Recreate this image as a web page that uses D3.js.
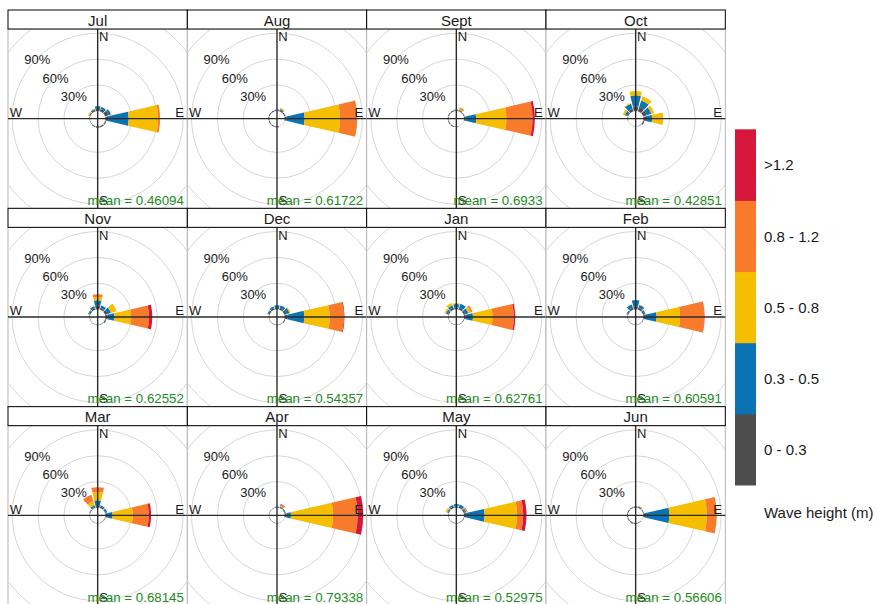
<!DOCTYPE html>
<html>
<head>
<meta charset="utf-8">
<script src="https://cdn.jsdelivr.net/npm/d3@7/dist/d3.min.js"></script>
<style>
  body { margin: 0; background: #fff; }
  svg { display: block; }
  text { font-family: "Liberation Sans", Arial, sans-serif; fill: #1a1a1a; }
</style>
</head>
<body>
<svg id="chart" width="878" height="604"></svg>
<script>
// Monthly wave roses: frequency (%) of wave direction, stacked by wave height class.
const months = ["Jul", "Aug", "Sept", "Oct", "Nov", "Dec", "Jan", "Feb", "Mar", "Apr", "May", "Jun"];
const meanHeight = ["0.46094", "0.61722", "0.6933", "0.42851", "0.62552", "0.54357",
                    "0.62761", "0.60591", "0.68145", "0.79338", "0.52975", "0.56606"];
const directions = [30, 60, 90, 120, 150, 180, 210, 240, 270, 300, 330, 360];
const heightBins = ["0 - 0.3", "0.3 - 0.5", "0.5 - 0.8", "0.8 - 1.2", ">1.2"];
const binColours = ["#4d4d4d", "#0b72b4", "#f6be00", "#f77b2a", "#d7163b"];
const gridLevels = [30, 60, 90];

// rows follow `directions`, columns follow `heightBins`
const freqJul = [
  [2.5, 2.5, 0, 0, 0], [4, 3, 0.5, 0, 0], [3, 24, 34, 2.3, 0], [1, 0.5, 0, 0, 0],
  [1.5, 0, 0, 0, 0], [1.5, 0, 0, 0, 0], [1, 0, 0, 0, 0], [0.5, 0, 0, 0, 0],
  [0.5, 0, 0, 0, 0], [1, 0.5, 1, 0, 0], [1.5, 1, 0.5, 0, 0], [2.5, 3, 0.5, 0, 0]];
const freqAug = [
  [1, 1.5, 1.5, 0, 0], [1, 0.5, 0, 0, 0], [2, 21, 41, 20, 0], [0, 0, 0, 0, 0],
  [0, 0, 0, 0, 0], [1, 0, 0, 0, 0], [1, 0, 0, 0, 0], [1, 0, 0, 0, 0],
  [1, 0, 0, 0, 0], [1, 0, 0, 0, 0], [1, 0, 0, 0, 0], [1, 0.5, 0, 0, 0]];
const freqSept = [
  [0.5, 1, 1.5, 1.5, 0], [0.5, 0.5, 0, 0, 0], [1.5, 12.5, 35, 30.3, 2.7], [0, 0, 0, 0, 0],
  [0, 0, 0, 0, 0], [0.5, 0, 0, 0, 0], [1, 0, 0, 0, 0], [1, 0, 0, 0, 0],
  [1, 0, 0, 0, 0], [1, 0, 0, 0, 0], [1, 0, 0, 0, 0], [1, 0.5, 0, 0, 0]];
const freqOct = [
  [5, 8, 5, 0, 0], [4.5, 5.5, 3.5, 0, 0], [3, 7, 13, 0, 0], [1.5, 0, 0, 0, 0],
  [0.5, 0, 0, 0, 0], [0, 0, 0, 0, 0], [0, 0, 0, 0, 0], [0, 0, 0, 0, 0],
  [0.5, 0, 0, 0, 0], [1, 3, 2.5, 0, 0], [3, 6, 1, 0, 0], [5, 13, 5, 0, 0]];
const freqNov = [
  [2, 3, 0, 0, 0], [3, 4, 7, 0, 0], [2.5, 8, 19.5, 20.5, 3.8], [1, 0.5, 0, 0, 0],
  [0.5, 0, 0, 0, 0], [0.5, 0, 0, 0, 0], [0.3, 0, 0, 0, 0], [0.3, 0, 0, 0, 0],
  [0.5, 0, 0, 0, 0], [1.5, 1, 0, 0, 0], [1.5, 2.5, 0, 0, 0], [4.5, 5.8, 3.9, 3.1, 0]];
const freqDec = [
  [2, 3, 0, 0, 0], [2.5, 3.5, 1.5, 0, 0], [3, 19.7, 29.4, 16.3, 0.8], [1, 0, 0, 0, 0],
  [0.5, 0, 0, 0, 0], [0.5, 0, 0, 0, 0], [0.5, 0, 0, 0, 0], [0.3, 0, 0, 0, 0],
  [0.5, 0, 0, 0, 0], [1.5, 1, 0, 0, 0], [1.5, 2, 0, 0, 0], [1.5, 3, 0, 0, 0]];
const freqJan = [
  [2, 5, 0, 0, 0], [2, 3.5, 3, 2.2, 0], [2, 8.3, 22.5, 24.8, 1.6], [0.5, 0, 0, 0, 0],
  [0.3, 0, 0, 0, 0], [0.3, 0, 0, 0, 0], [0.3, 0, 0, 0, 0], [0.3, 0, 0, 0, 0],
  [0.5, 0, 0, 0, 0], [1, 2.5, 2, 0, 0], [2, 3, 3, 0, 0], [2, 4, 1, 0, 0]];
const freqFeb = [
  [2, 3.5, 0.5, 0, 0], [1.5, 1.5, 0, 0, 0], [2, 13.3, 27.2, 27.9, 0.5], [0.5, 0, 0, 0, 0],
  [0.3, 0, 0, 0, 0], [0.3, 0, 0, 0, 0], [0.3, 0, 0, 0, 0], [0.3, 0, 0, 0, 0],
  [0.5, 0, 0, 0, 0], [1, 1, 0, 0, 0], [2, 4, 0, 0, 0], [3, 7.5, 0, 0, 0]];
const freqMar = [
  [1.5, 1.5, 0, 0, 0], [1, 1.5, 0, 0, 0], [2, 6.3, 23.3, 18.6, 2.7], [0.5, 0, 0, 0, 0],
  [0.3, 0, 0, 0, 0], [0.3, 0, 0, 0, 0], [0.3, 0, 0, 0, 0], [0.3, 0, 0, 0, 0],
  [0.3, 0, 0, 0, 0], [0.5, 0.5, 0, 0, 0], [1, 2, 5, 8, 0], [2, 6.3, 9.7, 5.6, 0]];
const freqApr = [
  [0.5, 1, 1, 1.5, 0.5], [0.5, 1, 0, 0, 0], [2, 5.2, 48.8, 28.5, 6.4], [0, 0, 0, 0, 0],
  [0, 0, 0, 0, 0], [0.3, 0, 0, 0, 0], [0.3, 0, 0, 0, 0], [0.3, 0, 0, 0, 0],
  [0.3, 0, 0, 0, 0], [0.3, 0, 0, 0, 0], [0.3, 0, 0, 0, 0], [0.5, 0.5, 0, 0, 0]];
const freqMay = [
  [1.5, 2.5, 0, 0, 0], [1.5, 1.5, 0.5, 1, 0], [2.5, 21.3, 37.6, 7, 3.9], [0.5, 0, 0, 0, 0],
  [0.5, 0, 0, 0, 0], [0.5, 0, 0, 0, 0], [0.5, 0, 0, 0, 0], [0.3, 0, 0, 0, 0],
  [0.5, 0, 0, 0, 0], [1, 1, 2, 0, 0], [1.5, 2, 0, 0, 0], [1.5, 2.5, 0, 0, 0]];
const freqJun = [
  [1, 0.5, 1, 0, 0], [0.5, 0.5, 0, 0, 0], [3, 27, 43.5, 11.5, 0], [0, 0, 0, 0, 0],
  [0.5, 0, 0, 0, 0], [1, 0, 0, 0, 0], [1, 0, 0, 0, 0], [1, 0, 0, 0, 0],
  [1, 0, 0, 0, 0], [1, 0, 0, 0, 0], [1, 0, 0, 0, 0], [1, 0.5, 0, 0, 0]];

const monthFreq = [freqJul, freqAug, freqSept, freqOct, freqNov, freqDec,
                   freqJan, freqFeb, freqMar, freqApr, freqMay, freqJun];

// ---- layout ----
const svg = d3.select("#chart");
const gridLeft = 8, gridTop = 10;
const panelW = 179.33, panelH = 179.33, stripH = 19;
const nCols = 4;
const upperPx = (panelW / 2) / 1.04;          // radius of the plotting limit

// longest stacked bar sets the shared radial scale, with a 10 % hole in the middle
const maxFreq = d3.max(monthFreq, m => d3.max(m, row => d3.sum(row)));
const offset = maxFreq * 0.1;
const r = d3.scaleLinear().domain([-offset, maxFreq]).range([0, upperPx]);
const halfWidth = 13 * Math.PI / 180;         // wedge half-width in a 30° sector
const colour = d3.scaleOrdinal().domain(heightBins).range(binColours);

const arc = d3.arc();
const defs = svg.append("defs");

months.forEach((month, i) => {
  const col = i % nCols, row = Math.floor(i / nCols);
  const x0 = gridLeft + col * panelW;
  const y0 = gridTop + row * (stripH + panelH);
  const py = y0 + stripH;
  const cx = x0 + panelW / 2, cy = py + panelH / 2;

  defs.append("clipPath").attr("id", "clip" + i)
    .append("rect").attr("x", x0).attr("y", py).attr("width", panelW).attr("height", panelH);

  const panel = svg.append("g");
  panel.append("rect")
    .attr("x", x0).attr("y", py).attr("width", panelW).attr("height", panelH)
    .attr("fill", "#fff").attr("stroke", "#b5b5b5").attr("stroke-width", 1);

  const inner = panel.append("g").attr("clip-path", `url(#clip${i})`)
    .append("g").attr("transform", `translate(${cx},${cy})`);

  // grid rings: the hole edge plus every 30 %
  inner.selectAll("circle.ring")
    .data([0, 30, 60, 90, 120])
    .join("circle")
    .attr("r", d => r(d))
    .attr("fill", "none").attr("stroke", "#d6d6d6").attr("stroke-width", 1);

  // stacked wedges
  const stack = [];
  monthFreq[i].forEach((vals, k) => {
    let cum = 0;
    vals.forEach((v, b) => {
      if (v > 0) stack.push({ dir: directions[k], bin: heightBins[b], lo: cum, hi: cum + v });
      cum += v;
    });
  });
  inner.selectAll("path.wedge")
    .data(stack)
    .join("path")
    .attr("d", d => arc({
      innerRadius: r(d.lo), outerRadius: r(d.hi),
      startAngle: d.dir * Math.PI / 180 - halfWidth,
      endAngle: d.dir * Math.PI / 180 + halfWidth
    }))
    .attr("fill", d => colour(d.bin));

  // compass axes
  const ext = panelW / 2 + 2;
  inner.append("line").attr("x1", -ext).attr("x2", ext).attr("y1", 0).attr("y2", 0)
    .attr("stroke", "#2b2b2b").attr("stroke-width", 1.4);
  inner.append("line").attr("y1", -ext).attr("y2", ext).attr("x1", 0).attr("x2", 0)
    .attr("stroke", "#2b2b2b").attr("stroke-width", 1.4);

  const U = upperPx;
  const compass = [
    { t: "N", x: 0.07 * U, y: -0.95 * U },
    { t: "E", x: 0.95 * U, y: -0.07 * U },
    { t: "S", x: 0.07 * U, y: 0.95 * U },
    { t: "W", x: -0.95 * U, y: -0.07 * U }
  ];
  inner.selectAll("text.compass")
    .data(compass)
    .join("text")
    .attr("x", d => d.x).attr("y", d => d.y)
    .attr("text-anchor", "middle").attr("dominant-baseline", "central")
    .attr("font-size", 13)
    .text(d => d.t);

  // percentage labels along the north-west diagonal
  inner.selectAll("text.pct")
    .data(gridLevels)
    .join("text")
    .attr("x", d => -r(d) * Math.SQRT1_2)
    .attr("y", d => -r(d) * Math.SQRT1_2 + 1.5)
    .attr("text-anchor", "middle").attr("dominant-baseline", "central")
    .attr("font-size", 13)
    .text(d => d + "%");

  inner.append("text")
    .attr("x", U).attr("y", U)
    .attr("text-anchor", "end")
    .attr("font-size", 13.3)
    .style("fill", "#228b22")
    .text("mean = " + meanHeight[i]);

  // strip with month name
  svg.append("rect")
    .attr("x", x0).attr("y", y0).attr("width", panelW).attr("height", stripH)
    .attr("fill", "#fff").attr("stroke", "#000").attr("stroke-width", 1);
  svg.append("text")
    .attr("x", x0 + panelW / 2).attr("y", y0 + stripH / 2 + 0.5)
    .attr("text-anchor", "middle").attr("dominant-baseline", "central")
    .attr("font-size", 15)
    .text(month);
});

// ---- colour key ----
const keyX = 735, keyW = 21, keyTop = 129.3, keyBottom = 485;
const keyY = d3.scaleBand().domain(heightBins.slice().reverse()).range([keyTop, keyBottom]);
const key = svg.append("g");
key.selectAll("rect")
  .data(heightBins)
  .join("rect")
  .attr("x", keyX).attr("y", d => keyY(d))
  .attr("width", keyW).attr("height", keyY.bandwidth() + 0.5)
  .attr("fill", d => colour(d));
key.selectAll("text")
  .data(heightBins)
  .join("text")
  .attr("x", keyX + keyW + 8)
  .attr("y", d => keyY(d) + keyY.bandwidth() / 2)
  .attr("dominant-baseline", "central")
  .attr("font-size", 15)
  .text(d => d);
key.append("text")
  .attr("x", keyX + keyW + 8).attr("y", 512)
  .attr("dominant-baseline", "central")
  .attr("font-size", 15)
  .text("Wave height (m)");
</script>
</body>
</html>
